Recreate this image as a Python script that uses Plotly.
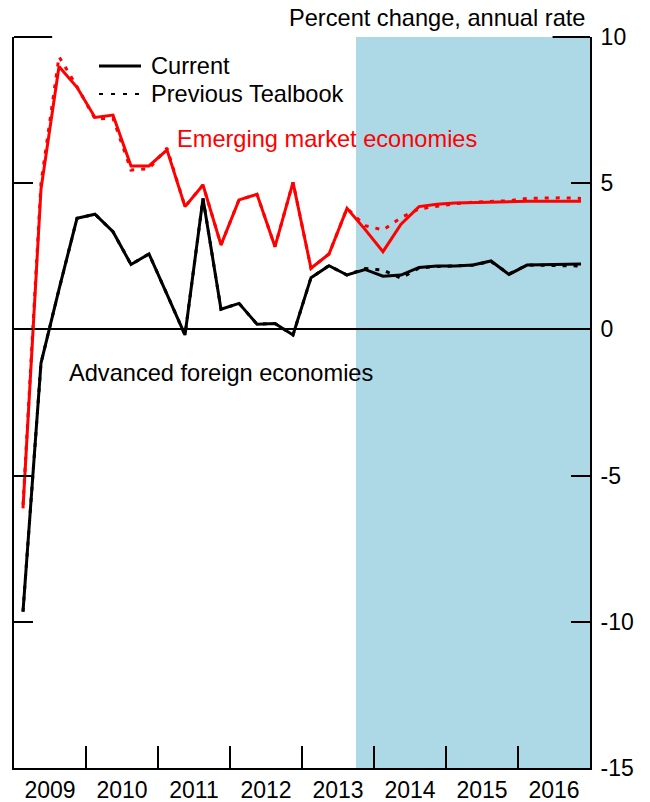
import plotly.graph_objects as go

# ---- data -------------------------------------------------------------
quarters = [f"{y}Q{q}" for y in range(2009, 2017) for q in range(1, 5)]

afe_current = [-9.65, -1.15, 1.37, 3.80, 3.94, 3.34, 2.22, 2.58,
               1.20, -0.19, 4.48, 0.69, 0.89, 0.18, 0.20, -0.19,
               1.77, 2.18, 1.86, 2.05, 1.82, 1.86, 2.12, 2.17,
               2.17, 2.20, 2.34, 1.88, 2.20, 2.22, 2.23, 2.24]
afe_previous = [-9.65, -1.15, 1.37, 3.80, 3.94, 3.34, 2.22, 2.58,
                1.20, -0.19, 4.48, 0.69, 0.89, 0.18, 0.20, -0.19,
                1.77, 2.18, 1.86, 2.08, 2.03, 1.75, 2.10, 2.15,
                2.17, 2.20, 2.32, 1.90, 2.20, 2.20, 2.18, 2.17]
eme_current = [-6.12, 4.80, 8.99, 8.28, 7.25, 7.33, 5.59, 5.59,
               6.14, 4.20, 4.94, 2.89, 4.43, 4.62, 2.83, 5.03,
               2.09, 2.58, 4.14, 3.42, 2.66, 3.60, 4.20, 4.28,
               4.32, 4.34, 4.36, 4.37, 4.38, 4.38, 4.38, 4.38]
eme_previous = [-6.00, 5.00, 9.33, 8.30, 7.20, 7.22, 5.45, 5.50,
                6.20, 4.20, 4.94, 2.89, 4.43, 4.62, 2.83, 5.03,
                2.09, 2.58, 4.14, 3.55, 3.40, 3.82, 4.12, 4.20,
                4.30, 4.35, 4.38, 4.40, 4.48, 4.50, 4.50, 4.48]

year_labels = [str(y) for y in range(2009, 2017)]
y_ticks = [-15, -10, -5, 0, 5, 10]
y_tick_labels = ["-15", "-10", "-5", "0", "5", "10"]
forecast_start = 2013.75

# ---- helpers ------------------------------------------------------------
def qpos(q):
    y, n = q.split("Q")
    return int(y) + (int(n) - 0.5) / 4.0

xs = [qpos(q) for q in quarters]

OFF = 8  # page body margin
W, H = 642, 794
L, R, T, B = 6, 60, 29, 34
PW, PH = W - L - R, H - T - B

def px(x):
    return (x - OFF - L) / PW

def py(y):
    return (H - B - (y - OFF)) / PH

FONT = "Liberation Sans, Arial, sans-serif"
DOT = "4px,7px"
TS = 23.6

fig = go.Figure()

fig.add_trace(go.Scatter(x=xs, y=eme_previous, mode="lines",
                         line=dict(color="#ff0000", width=3, dash=DOT),
                         showlegend=False, hoverinfo="skip"))
fig.add_trace(go.Scatter(x=xs, y=afe_previous, mode="lines",
                         line=dict(color="#000000", width=3, dash=DOT),
                         showlegend=False, hoverinfo="skip"))
fig.add_trace(go.Scatter(x=xs, y=eme_current, mode="lines",
                         line=dict(color="#ff0000", width=3),
                         showlegend=False))
fig.add_trace(go.Scatter(x=xs, y=afe_current, mode="lines",
                         line=dict(color="#000000", width=3),
                         showlegend=False))

shapes = [
    dict(type="rect", xref="x", yref="paper", x0=forecast_start, x1=2017,
         y0=0, y1=1, fillcolor="#add8e6", line=dict(width=0), layer="below"),
    # partial top border
    dict(type="line", xref="x", yref="paper", x0=2009, x1=2009.53, y0=1, y1=1,
         line=dict(color="black", width=2)),
    dict(type="line", xref="x", yref="paper", x0=2016.48, x1=2017, y0=1, y1=1,
         line=dict(color="black", width=2)),
    # legend samples
    dict(type="line", xref="paper", yref="paper", x0=px(99), x1=px(141),
         y0=py(66), y1=py(66), line=dict(color="black", width=3)),
    dict(type="line", xref="paper", yref="paper", x0=px(99), x1=px(141),
         y0=py(94), y1=py(94), line=dict(color="black", width=2, dash="4px,8px")),
]

annotations = [
    dict(text="Current", xref="paper", yref="paper", x=px(149), y=py(66),
         xanchor="left", yanchor="middle", showarrow=False,
         font=dict(size=TS, color="black", family=FONT)),
    dict(text="Previous Tealbook", xref="paper", yref="paper", x=px(149), y=py(94),
         xanchor="left", yanchor="middle", showarrow=False,
         font=dict(size=TS, color="black", family=FONT)),
    dict(text="Emerging market economies", xref="paper", yref="paper",
         x=px(175), y=py(139), xanchor="left", yanchor="middle", showarrow=False,
         font=dict(size=TS, color="#ff0000", family=FONT)),
    dict(text="Advanced foreign economies", xref="paper", yref="paper",
         x=px(67), y=py(373), xanchor="left", yanchor="middle", showarrow=False,
         font=dict(size=TS, color="black", family=FONT)),
    dict(text="Percent change, annual rate", xref="paper", yref="paper",
         x=px(587), y=py(18), xanchor="right", yanchor="middle", showarrow=False,
         font=dict(size=TS, color="black", family=FONT)),
]

fig.update_layout(
    width=W, height=H,
    margin=dict(l=L, r=R, t=T, b=B, pad=0, autoexpand=False),
    paper_bgcolor="white", plot_bgcolor="white",
    showlegend=False,
    font=dict(family=FONT, size=23, color="black"),
    shapes=shapes, annotations=annotations,
    xaxis=dict(range=[2009, 2017], tickvals=[y + 0.5 for y in range(2009, 2017)],
               ticktext=year_labels, ticks="", showgrid=False, zeroline=False,
               showline=True, linecolor="black", linewidth=2, mirror=False,
               tickfont=dict(size=23), automargin=False,
               minor=dict(tickvals=list(range(2010, 2017)), ticks="inside",
                          ticklen=22, tickwidth=2, tickcolor="black",
                          showgrid=False)),
    yaxis=dict(range=[-15, 10], tickvals=y_ticks, ticktext=y_tick_labels,
               side="right", automargin=False, ticklabelstandoff=4,
               ticks="inside", ticklen=19, tickwidth=2, tickcolor="black",
               showline=True, linecolor="black", linewidth=2, mirror="ticks",
               showgrid=False, zeroline=True, zerolinecolor="black",
               zerolinewidth=1.5, tickfont=dict(size=23)),
)

fig.write_html("out.html")
